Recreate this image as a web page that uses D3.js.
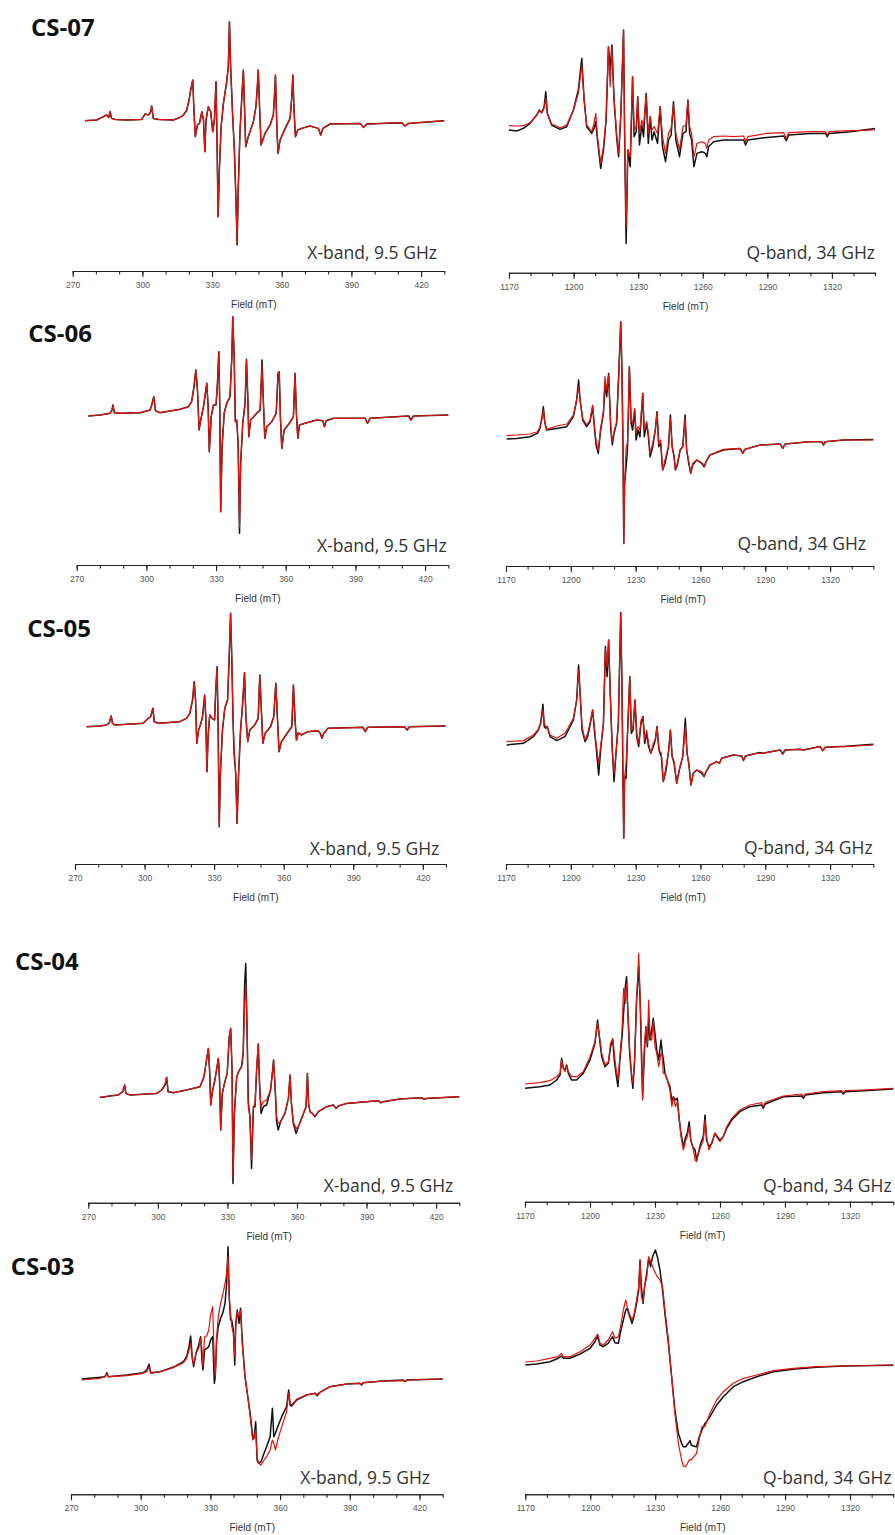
<!DOCTYPE html>
<html>
<head>
<meta charset="utf-8">
<script src="https://cdn.jsdelivr.net/npm/d3@7"></script>
<style>
  body { margin: 0; background: #fff; }
  svg { display: block; }
  .axis path, .axis line { stroke: #222; stroke-width: 1.1; }
  .axis text { font-family: "Liberation Sans", Arial, sans-serif; font-size: 8.5px; fill: #555; }
  .field-label { font-family: "Liberation Sans", Arial, sans-serif; font-size: 10px; fill: #333; }
  .band-label { font-family: "Open Sans", sans-serif; font-size: 17.5px; fill: #333; }
  .sample-name { font-family: "Open Sans", sans-serif; font-size: 24px; font-weight: bold; fill: #111; }
</style>
</head>
<body>
<svg id="chart" width="895" height="1535"></svg>
<script>

const cs07X = [[275.3,0],[280.3,0.7],[283.2,4],[284.6,5.7],[285.5,3.3],[286.1,9],[286.7,2.3],[288.2,1.3],[293.3,0.7],[299.7,1.3],[301.2,6.7],[302.6,5.7],[303.6,9],[304.0,14.7],[304.7,2.3],[306.9,1.3],[313.4,0.7],[316.2,3.3],[317.7,5.7],[319.1,10.7],[320.1,20.7],[320.8,30.7],[321.7,40.7],[322.2,10.7],[322.8,-16],[323.7,-4.3],[324.6,-2.7],[325.6,9],[326.3,0.7],[326.9,-31],[327.4,0.7],[328.4,14],[329.4,9],[330.3,-11],[331.0,0.7],[331.7,39],[332.1,-12.7],[332.6,-96],[333.2,-46],[333.9,-6],[334.9,17.3],[336.3,39],[337.0,54],[337.5,99],[338.0,54],[338.7,14],[339.6,-29.3],[340.3,-79.3],[340.8,-124.3,-122],[341.3,-66],[342.0,-12.7],[342.9,27.3],[343.5,50.7],[344.0,10.7],[344.5,-26],[345.6,-16],[347.8,-1],[348.9,14],[349.5,34],[349.9,50.7],[350.5,10.7],[351.1,-24.3],[352.8,-12.7],[355.0,-4.3],[356.4,5.7],[357.0,30.7],[357.3,45.7],[357.9,-6],[358.4,-32.7],[359.3,-19.3],[361.5,-7.7],[363.6,2.3],[364.3,22.7],[364.8,45.7],[365.3,10.7],[365.9,-16],[366.9,-9.3],[368.6,-7.7],[372.2,-5.3],[375.8,-7.7],[376.8,-14.3],[377.7,-7.7],[380.8,-3.3],[393.8,-2.7],[395.2,-6.7],[396.6,-3.3],[411.7,-2],[413.1,-5.3],[414.6,-2.7],[430.0,0]];

const cs07Q = [[1170.0,-3.3,1],[1173.6,-4.3,0.7],[1176.7,-1.7,1],[1179.8,3.3,4],[1182.9,11.7,11.7],[1184.1,16.7,16],[1185.2,14,14],[1186.3,20,18.3],[1187.1,35,28.3],[1187.8,13.3,13.3],[1189.8,1.7,2.7],[1193.7,-2.7,-1],[1196.8,0,1.7],[1199.9,16.7,16.7],[1202.2,36.7,33.3],[1203.8,68.3,61.7],[1204.9,26.7,26.7],[1206.1,0,1.7],[1208.4,-6.7,-5],[1209.5,-1.7,3.3],[1210.3,5,13.3],[1211.1,-13.3,-10],[1212.6,-41.7,-36.7],[1213.9,-23.3,-20],[1215.1,6.7,8.3],[1216.2,80,80],[1217.0,56.7,40],[1217.8,81.7,80],[1218.8,26.7,26.7],[1220.1,-13.3,-10],[1220.9,-30,-26.7],[1221.9,10,10],[1223.2,96.7,96.7],[1223.8,-23.3,-23.3],[1224.4,-116.7,-100],[1225.2,-23.3,-23.3],[1226.3,-40,-30],[1227.4,50,50],[1228.1,-10,-3.3],[1229.1,-5,0],[1229.8,30,30],[1230.6,-18.3,-6.7],[1231.7,1.7,6.7],[1232.5,-10,0],[1233.7,33.3,31.7],[1234.7,-16.7,-6.7],[1235.6,10,10],[1236.4,-13.3,-3.3],[1237.4,-5,0],[1239.0,-16.7,-6.7],[1240.2,20,20],[1241.3,-20,-10],[1242.7,-35,-26.7],[1244.1,-13.3,-6.7],[1245.3,-8.3,-1.7],[1246.4,25,21.7],[1247.5,-13.3,-6.7],[1249.2,-30,-23.3],[1250.8,-6.7,0],[1252.2,-5,1.7],[1253.1,26.7,26.7],[1253.9,-6.7,0],[1254.8,-13.3,-6.7],[1255.9,-40,-30],[1257.3,-26.7,-16.7],[1259.6,-25,-15],[1261.2,-26.7,-16.7],[1261.9,-30,-21.7],[1262.7,-20,-13.3],[1265.0,-15,-10],[1269.7,-13.3,-9.3],[1274.3,-13.3,-10],[1279.0,-13.3,-9.3],[1279.9,-18.3,-15],[1280.9,-13.3,-10],[1289.8,-10.7,-6.7],[1297.6,-9.3,-6],[1298.8,-14,-11.7],[1299.9,-8.3,-6],[1310.0,-6.7,-5],[1317.0,-6.7,-5],[1317.8,-10,-8.3],[1318.7,-6.7,-5],[1328.6,-5,-4],[1340.0,-1.7,-3.3]];

const cs06X = [[275.0,-1],[280.1,0],[284.4,1.7],[285.2,5],[285.6,10],[286.2,2.3],[288.7,1.7],[297.3,2.3],[301.6,5],[302.3,10],[303.2,18.3],[303.9,4.3],[305.9,2.3],[314.5,5.7],[318.1,8.3],[319.5,13.3],[320.5,28.3],[321.3,45],[322.0,25],[322.7,-15],[323.4,-5],[324.6,8.3],[325.4,21.7],[326.0,31.7],[326.6,8.3],[327.1,-36.7],[327.9,-1.7],[328.9,10],[330.0,10],[330.6,31.7],[331.2,63.3],[331.6,8.3],[332.0,-96.7],[332.6,-31.7],[333.5,1.7],[334.6,11.7],[336.0,18.3],[336.8,58.3],[337.2,98.3],[337.8,58.3],[338.3,-6.7],[338.9,-5],[339.5,-28.3],[340.1,-118.3,-111.7],[340.6,-48.3],[341.5,-8.3],[342.5,11.7],[343.1,55.7],[343.7,15],[344.1,-21.7],[344.9,-5],[347.5,1.7],[349.0,5],[349.5,35],[349.8,55,50],[350.4,11.7],[351.0,-23.3],[351.8,-11.7],[354.0,-6.7],[355.9,1.7],[356.7,41.7],[357.2,43.3],[357.7,-1.7],[358.3,-33.3],[359.3,-15],[361.6,-8.3],[363.3,-1.7],[364.0,41.7],[364.6,1.7],[365.2,-23.3],[365.9,-10],[368.3,-8.3],[373.4,-5],[376.0,-5.7],[376.7,-11.7],[377.4,-5.7],[380.6,-3.3],[394.2,-3.3],[395.2,-8.3],[396.3,-3.3],[412.9,-1],[413.9,-5],[415.0,-1],[430.0,0]];

const cs06Q = [[1170.3,-2.3,1],[1174.9,-1.7,1.7],[1181.1,0,2.7],[1184.5,3.3,5],[1185.7,8.3,9.3],[1186.7,20,18.3],[1187.3,30,26.7],[1187.9,15,15],[1188.8,6.7,7.3],[1193.5,8.3,10.7],[1198.1,10,12.7],[1201.2,20,21.7],[1202.7,36.7,36.7],[1203.6,56.7,50],[1204.3,36.7,36.7],[1205.5,16.7,18.3],[1207.3,10,11.7],[1208.9,15,16.7],[1210.1,30,31.7],[1211.0,6.7,10],[1211.7,-8.3,-5],[1212.7,-16.7,-13.3],[1213.8,6.7,8.3],[1215.1,23.3,25],[1215.8,53.3,60],[1216.6,40,46.7],[1217.5,63.3,61.7],[1218.5,6.7,10],[1219.2,-8.3,-5],[1220.0,3.3,5],[1221.2,13.3,15],[1222.2,63.3,63.3],[1223.1,115,115],[1223.7,63.3,63.3],[1224.2,-20,-20],[1224.5,-106.7,-106.7],[1224.9,-46.7,-46.7],[1225.6,-30,-10],[1226.2,-13.3,-6.7],[1226.6,20,20],[1227.1,70,70],[1227.9,13.3,16.7],[1228.6,6.7,13.3],[1229.6,26.7,28.3],[1230.2,-3.3,3.3],[1231.1,6.7,10],[1232.0,0,6.7],[1233.3,43.3,43.3],[1234.0,0,6.7],[1235.1,13.3,15],[1235.9,0,3.3],[1236.7,-20,-16.7],[1237.9,-10,-6.7],[1239.1,6.7,6.7],[1239.9,25,25],[1240.7,-10,-6.7],[1241.6,-6.7,-3.3],[1242.5,-33.3,-33.3],[1243.6,-26.7,-23.3],[1245.2,-10,-10],[1246.1,21.7,18.3],[1246.9,-10,-10],[1247.8,-20,-20],[1248.4,-33.3,-33.3],[1249.3,-28.3,-26.7],[1250.6,-13.3,-13.3],[1251.8,-10,-10],[1252.9,21.7,18.3],[1253.6,-13.3,-13.3],[1254.6,-26.7,-25],[1255.5,-36.7,-36.7],[1256.4,-28.3,-26.7],[1258.3,-23.3,-23.3],[1260.6,-26.7,-26],[1261.7,-30,-29.3],[1262.6,-25,-25],[1264.4,-18.3,-18.3],[1270.6,-13.3,-12.7],[1278.3,-11.7,-11.7],[1279.6,-16.7,-16.7],[1280.5,-12.7,-12.7],[1287.6,-8.3,-8.3],[1296.9,-7.3,-7.3],[1298.1,-11.7,-11.7],[1299.2,-7.3,-7.3],[1310.7,-5,-5],[1316.1,-5,-5],[1316.9,-8.3,-8.3],[1317.8,-5,-5],[1326.2,-3.3,-3.3],[1340.0,-2.7,-3.3]];

const cs05X = [[275.0,-0.7],[280.8,0],[283.6,1],[284.8,3.3],[285.6,10],[286.2,2.7],[287.2,1],[299.4,2.7],[301.6,7.7],[302.6,9.3],[303.6,17.7],[304.2,4.3],[305.9,2.7],[315.2,4.3],[318.1,7.7],[319.5,12.7],[320.7,26],[321.4,44.3],[322.0,26],[322.5,-17.3],[323.3,-4],[324.3,2.7],[325.0,9.3],[325.9,31],[326.4,9.3],[326.9,-45.7],[327.4,-10.7],[328.1,11],[329.1,7.7],[330.2,6],[330.7,36],[331.3,59.3],[331.7,2.7],[332.2,-100.7],[332.7,-47.3],[333.6,-4],[334.6,17.7],[335.8,26],[336.5,69.3],[337.1,112.7],[337.6,69.3],[338.2,2.7],[338.6,-27.3,-20.7],[339.3,-47.3],[339.9,-97.3],[340.5,-50.7],[341.4,-4],[342.2,19.3],[343.1,53.3],[343.7,9.3],[344.5,-15.7],[345.4,-4],[347.5,1],[349.0,7.7],[349.7,51],[350.3,19.3],[351.0,-17.3],[352.0,-7.3],[354.3,-0.7],[355.7,9.3],[356.6,42.7],[357.2,12.7],[358.0,-25.7],[359.0,-15.7],[361.5,-7.3],[363.5,-0.7],[364.2,41],[364.9,6],[365.5,-14],[366.3,-6.7],[367.6,-9],[370.5,-5.7],[374.8,-4.7],[375.8,-7.3],[376.5,-12.3],[377.3,-7.3],[379.1,-2.3],[394.2,-1.3],[395.2,-5.7],[396.2,-1.3],[412.1,-0.7],[413.2,-4],[414.3,-0.7],[429.8,0]];

const cs05Q = [[1170.3,-1.7,1.7],[1178.0,0,2.7],[1182.7,6.7,8.3],[1185.0,13.3,14],[1186.0,20,20],[1186.5,28.3,25],[1187.1,39,33.3],[1187.7,16.7,20],[1188.4,15,16.7],[1189.1,16.7,16],[1190.4,6.7,8.3],[1193.5,2.7,5],[1197.3,6.7,10],[1201.2,23.3,25],[1202.7,43.3,43.3],[1203.6,78.3,73.3],[1204.3,50,50],[1205.2,13.3,16.7],[1206.6,1.7,3.3],[1207.8,6.7,10],[1208.9,18.3,20],[1210.1,33.3,33.3],[1210.9,13.3,16.7],[1211.7,-3.3,0],[1212.9,-31.7,-20],[1213.8,-6.7,-3.3],[1215.1,20,20],[1216.0,96.7,95],[1216.8,66.7,76.7],[1217.5,103.3,103.3],[1218.3,46.7,46.7],[1219.2,-6.7,-6.7],[1220.0,-38.3,-30],[1220.8,-13.3,-13.3],[1222.0,20,20],[1223.1,130.7,130.7],[1223.7,53.3,53.3],[1224.2,-46.7,-46.7],[1224.5,-95,-95],[1224.9,-33.3,-33.3],[1225.6,-35,-20],[1226.3,13.3,13.3],[1227.3,66.7,66.7],[1228.0,10,13.3],[1228.8,13.3,16.7],[1229.7,43.3,43.3],[1230.5,6.7,10],[1231.4,-3.3,0],[1232.5,20,23.3],[1233.4,26.7,26.7],[1234.2,0,3.3],[1235.1,10,13.3],[1236.0,-3.3,0],[1237.0,-10,-10],[1238.2,-3.3,0],[1239.1,3.3,3.3],[1239.9,16.7,16.7],[1240.8,-6.7,-6.7],[1241.9,-13.3,-10],[1242.8,-38.3,-38.3],[1244.1,-26.7,-23.3],[1245.3,-6.7,-6.7],[1246.1,13.3,12.7],[1246.9,-13.3,-13.3],[1247.8,-20,-18.3],[1249.0,-40,-40],[1250.2,-26.7,-26.7],[1251.8,-13.3,-13.3],[1253.0,25,16.7],[1253.8,-10,-10],[1254.6,-20,-20],[1255.6,-41.7,-41.7],[1256.7,-30,-30],[1258.3,-26.7,-26.7],[1260.6,-30,-28.3],[1261.7,-33.3,-33.3],[1262.6,-28.3,-28.3],[1264.4,-21.7,-21.7],[1267.5,-18.3,-18.3],[1268.8,-20,-20],[1269.8,-15,-15],[1275.2,-11.7,-11.7],[1279.1,-12.7,-12.7],[1279.9,-17.3,-17.3],[1280.8,-12.7,-12.7],[1286.0,-10,-10],[1287.6,-9.3,-10],[1288.8,-10,-10],[1296.9,-6.7,-6.7],[1298.1,-10.7,-10.7],[1299.2,-6.7,-6.7],[1306.1,-6,-6],[1307.7,-6.7,-6.7],[1315.4,-3.3,-3.3],[1316.6,-7.3,-7.3],[1317.8,-4,-4],[1324.6,-3.3,-3.3],[1326.2,-3.3,-3.3],[1340.0,-1,-1.7]];

const cs04X = [[275.0,-0.7],[279.3,0.7],[282.9,1.7],[284.8,5],[285.7,11.7],[286.2,3.3],[288.0,1.7],[299.5,3.3],[301.6,6.7],[303.1,11.7],[303.8,19.3],[304.4,5],[306.7,4],[312.4,6.7],[318.2,10],[319.9,20],[321.0,36.7],[321.8,48.3],[322.3,26.7],[322.8,-8.3],[323.5,5],[324.6,16.7],[325.3,26.7],[326.1,38.3],[326.6,16.7],[327.1,-33.3],[327.8,3.3],[328.9,15],[329.9,23.3],[330.8,60],[331.4,68.3],[332.0,26.7],[332.4,-86.7,-80],[333.0,-16.7],[334.0,20],[334.8,25],[336.1,30],[336.8,43.3],[337.4,110,90],[337.9,133.3,113.3],[338.4,76.7],[339.0,-5,-10],[339.7,-20],[340.4,-71.7,-63.3],[341.2,-10],[341.9,-10,-6.7],[342.6,26.7],[343.3,52.7],[343.9,10],[344.5,-16.7,-10],[345.5,-10,-5],[346.9,-8.3,-3.3],[348.6,6.7],[349.5,26.7],[349.9,36.7],[350.7,3.3],[351.2,-25,-20],[351.9,-33.3,-26.7],[352.9,-25],[354.8,-16.7],[356.3,-1.7],[357.0,21.7],[357.6,-6.7],[358.4,-26.7,-25],[359.6,-36.7,-31.7],[360.6,-30],[362.0,-21.7],[363.9,-10],[364.5,23.3],[365.0,-6.7],[365.6,-15],[366.6,-16.7],[367.8,-20],[369.2,-15],[372.8,-10],[375.7,-8.3],[376.8,-11.7],[377.8,-9.3],[381.4,-6.7],[390.0,-5],[395.1,-4],[396.1,-6],[397.2,-5],[404.4,-2.3],[413.8,-1],[414.8,-2.7],[415.9,-1.7],[421.7,-1],[430.0,0]];

const cs04Q = [[1170.0,-3.3,1],[1176.9,-1.7,2.3],[1181.5,0,4.3],[1184.6,5,8.3],[1186.2,10,11.7],[1186.9,26.7,25],[1187.7,16.7,16.7],[1188.5,15,13.3],[1189.2,20,19],[1190.0,11.7,13.3],[1191.5,5,8.3],[1193.8,5,8.3],[1196.9,11.7,13.3],[1200.0,25,28.3],[1202.3,41.7,43.3],[1203.5,65,61.7],[1204.3,48.3,50],[1205.4,28.3,31.7],[1206.9,18.3,20],[1208.5,21.7,23.3],[1209.5,38.3,41.7],[1210.5,45,46.7],[1211.2,25,31.7],[1212.0,11.7,16.7],[1212.9,-1.7,5],[1213.8,25,28.3],[1214.8,48.3,55],[1215.5,71.7,96.7],[1216.3,98.3,81.7],[1216.9,108.3,101.7],[1217.5,71.7,71.7],[1218.3,31.7,35],[1219.2,8.3,11.7],[1219.8,-3.3,1.7],[1220.6,25,25],[1221.5,85,85],[1222.5,118.3,131.7],[1223.2,81.7,81.7],[1223.8,25,38.3],[1224.3,-11.7,-15],[1225.1,31.7,38.3],[1225.8,58.3,58.3],[1226.5,38.3,41.7],[1227.1,65,85],[1227.7,45,48.3],[1228.5,55,45],[1229.2,66.7,63.3],[1230.0,51.7,38.3],[1230.8,35,31.7],[1231.7,25,18.3],[1232.8,45,31.7],[1233.4,31.7,28.3],[1233.8,26.7,11.7],[1234.6,11.7,11.7],[1235.7,5,5],[1236.9,-1.7,-5],[1237.8,-16.7,-21.7],[1238.5,-11.7,-11.7],[1239.4,-15,-21.7],[1240.3,-13.3,-16.7],[1241.2,-35,-33.3],[1242.0,-48.3,-51.7],[1243.1,-61.7,-65],[1244.2,-51.7,-55],[1244.9,-48.3,-51.7],[1245.8,-36.7,-41.7],[1246.5,-55,-55],[1247.4,-61.7,-61.7],[1248.5,-65,-75],[1249.2,-75,-76.7],[1250.0,-68.3,-68.3],[1251.1,-58.3,-61.7],[1252.3,-51.7,-55],[1253.1,-30,-35],[1253.8,-55,-51.7],[1254.9,-61.7,-65],[1256.2,-58.3,-58.3],[1257.7,-48.3,-48.3],[1258.8,-51.7,-53.3],[1260.0,-55,-56.7],[1261.5,-51.7,-51.7],[1263.1,-43.3,-41.7],[1265.4,-35,-33.3],[1269.2,-26.7,-25],[1273.8,-21.7,-20],[1279.2,-20,-17.7],[1280.0,-23.3,-21.7],[1280.9,-19,-17.3],[1289.2,-11.7,-11],[1297.7,-11,-9],[1298.5,-13.3,-11.7],[1299.4,-10,-9],[1307.7,-7.7,-6.7],[1316.2,-6.7,-5.7],[1316.9,-9,-8.3],[1317.8,-6.7,-5.7],[1326.2,-5.7,-5],[1340.0,-4,-3.3]];

const cs03X = [[274.6,0,-1],[282.5,1.7,0.7],[284.6,2.3,2.3],[285.4,6.3,5],[286.1,2.3,2.3],[294.0,4,3.3],[301.1,6.3,5.7],[302.6,9,7.3],[303.6,14.7,12.3],[304.3,6.3,5.7],[308.3,7.3,7.3],[314.0,11.7,11.3],[318.4,17.3,16.3],[319.8,22.3,20.7],[320.8,32.3,29],[321.5,43,35.7],[322.2,20.7,22.3],[322.8,12.3,14],[323.8,25.7,25.7],[325.0,34,30.7],[325.8,42.3,40.7],[326.4,19,29],[326.8,9,12.3],[327.5,29,42.3],[328.4,30.7,43],[329.3,32.3,49],[330.1,39,64],[331.0,42.3,72.3],[331.7,-4.3,15.7],[332.1,2.3,2.3],[332.7,39,42.3],[333.4,52.3,62.3],[334.4,60.7,75.7],[335.3,65.7,84],[336.3,75.7,95.7],[337.0,95.7,105.7],[337.6,132.3,122.3],[338.1,82.3,82.3],[338.7,59,65.7],[339.2,59,52.3],[339.9,49,45.7],[340.5,14,22.3],[340.9,55.7,52.3],[341.6,69,67.3],[342.3,55.7,62.3],[343.0,70.7,69],[343.7,39,35.7],[344.9,2.3,2.3],[346.3,-21,-21],[347.3,-37.7,-41],[348.2,-57.7,-61],[348.8,-59.3,-59.3],[349.5,-42.7,-51],[350.1,-81,-77.7],[350.8,-84.3,-84.3],[351.8,-82.7,-86],[353.1,-74.3,-81],[354.2,-67.7,-77.7],[355.7,-57.7,-71],[356.7,-29.3,-61],[357.3,-57.7,-64.3],[358.0,-54.3,-71],[359.0,-47.7,-61],[360.7,-37.7,-47.7],[362.8,-27.7,-32.7],[363.7,-11,-14.3],[364.3,-26,-24.3],[365.0,-27,-26],[367.1,-21,-20.3],[371.4,-16,-16],[375.0,-14.3,-14.3],[376.0,-16.7,-16],[376.9,-13.7,-13.7],[381.5,-7.7,-7.7],[388.7,-5,-5],[394.4,-4.3,-4.3],[395.1,-6,-6],[395.8,-3.7,-3.7],[404.4,-2,-2],[413.0,-1,-1.7],[413.8,-2.7,-2.7],[414.5,-1,-1],[430.0,0,0]];

const cs03Q = [[1170.0,-1,2],[1175.2,0,3],[1181.4,2.3,5.7],[1185.2,5.7,7.3],[1186.6,8,10.7],[1187.6,5.7,7.3],[1190.6,5.7,7.3],[1195.3,10,12.3],[1199.9,15.7,19],[1202.2,22.3,25.7],[1203.4,28,30],[1204.5,19,20.7],[1206.0,17.3,19],[1208.3,20.7,24],[1210.3,27.3,32.3],[1211.4,21.3,25.7],[1213.0,20.7,27.3],[1214.0,32.3,37.3],[1215.3,44,54],[1216.4,54,64],[1217.1,55.7,57.3],[1218.0,49,50.7],[1219.3,40.7,44],[1220.2,47.3,49],[1221.4,60.7,64],[1222.4,74,77.3],[1223.0,104,104],[1223.6,77.3,67.3],[1224.4,60.7,62.3],[1225.1,77.3,77.3],[1226.1,90.7,87.3],[1227.0,105.7,107.3],[1227.9,97.3,102.3],[1228.8,107.3,97.3],[1230.1,114,90.7],[1231.0,107.3,87.3],[1232.2,94,84],[1233.4,74,77.3],[1234.5,50.7,54],[1236.1,20.7,24],[1237.6,-12.7,-12.7],[1239.1,-46,-49.3],[1240.7,-69.3,-79.3],[1242.2,-79.3,-96],[1243.0,-82.7,-102],[1244.1,-82.7,-102.7],[1245.3,-79.3,-97.7],[1246.1,-76.7,-95.3],[1246.7,-81,-96],[1247.6,-82,-93.3],[1249.1,-82.7,-89.3],[1250.4,-72.7,-74.3],[1251.6,-66,-62.7],[1253.0,-59.3,-62.7],[1253.8,-57.7,-57.7],[1255.3,-52.7,-49.3],[1258.4,-41,-36],[1261.5,-32.7,-27.7],[1266.1,-22.7,-19.3],[1270.7,-17.7,-14.3],[1276.9,-12.7,-11],[1284.6,-7.7,-6.7],[1293.8,-5.3,-4.3],[1304.6,-3.3,-2.7],[1316.9,-2,-2],[1340.0,-1.3,-1]];

// assi
const xDomain = [270, 430];
const qDomain = [1170, 1340];
const xMajor = [270, 300, 330, 360, 390, 420];
const qMajor = [1170, 1200, 1230, 1260, 1290, 1320];
const xMinor = d3.range(270, 431, 10);
const qMinor = d3.range(1170, 1341, 10);

const samples = ["CS-07", "CS-06", "CS-05", "CS-04", "CS-03"];
const xSpectra = [cs07X, cs06X, cs05X, cs04X, cs03X];
const qSpectra = [cs07Q, cs06Q, cs05Q, cs04Q, cs03Q];
const bandNames = ["X-band, 9.5 GHz", "Q-band, 34 GHz"];

// --- layout of the 5 rows (pixels) ---
const layout = [
  { nameX: 31,   nameY: 36,
    left:  { x0: 72.7, x1: 444.3, zero: 120.7,  axisY: 271,    labelX: 437,   labelY: 259 },
    right: { x0: 509,  x1: 875,   zero: 126.7,  axisY: 272.7,  labelX: 875,   labelY: 259 } },
  { nameX: 28.3, nameY: 342,
    left:  { x0: 76.7, x1: 448.3, zero: 415,    axisY: 565,    labelX: 446.7, labelY: 551.7 },
    right: { x0: 506,  x1: 873.3, zero: 436.7,  axisY: 566,    labelX: 866,   labelY: 550 } },
  { nameX: 27.3, nameY: 636.7,
    left:  { x0: 75,   x1: 446,   zero: 726,    axisY: 864,    labelX: 439.3, labelY: 855 },
    right: { x0: 506,  x1: 873.3, zero: 743.3,  axisY: 864,    labelX: 872.7, labelY: 854 } },
  { nameX: 15,   nameY: 970,
    left:  { x0: 88.3, x1: 459.3, zero: 1096.7, axisY: 1202.7, labelX: 453.3, labelY: 1191.7 },
    right: { x0: 525,  x1: 893.3, zero: 1085,   axisY: 1201.7, labelX: 891.7, labelY: 1191.7 } },
  { nameX: 10.7, nameY: 1275,
    left:  { x0: 71,   x1: 442.7, zero: 1379,   axisY: 1494.3, labelX: 430,   labelY: 1484 },
    right: { x0: 525.3,x1: 893.3, zero: 1364,   axisY: 1494.3, labelX: 891.7, labelY: 1484 } }
];

const svg = d3.select("#chart");

// disegna un pannello (spettro sperimentale nero + simulazione rossa)
function drawPanel(data, box, domain, major, minor, band, fieldAt) {
  const x = d3.scaleLinear().domain(domain).range([box.x0, box.x1]);
  const y = d3.scaleLinear().domain([0, 100]).range([box.zero, box.zero - 100]);
  const g = svg.append("g");

  const lineExp = d3.line().x(d => x(d[0])).y(d => y(d[1]));
  const lineSim = d3.line().x(d => x(d[0])).y(d => y(d.length > 2 ? d[2] : d[1]));

  g.append("path").attr("d", lineExp(data))
    .attr("fill", "none").attr("stroke", "#111").attr("stroke-width", 1.5)
    .attr("stroke-linejoin", "round");
  g.append("path").attr("d", lineSim(data))
    .attr("fill", "none").attr("stroke", "#e3140e").attr("stroke-width", 1.2)
    .attr("stroke-linejoin", "round");

  // minor + major ticks
  g.append("g").attr("class", "axis")
    .attr("transform", `translate(0,${box.axisY})`)
    .call(d3.axisBottom(x).tickValues(minor).tickSize(3.5).tickFormat("").tickSizeOuter(0));
  g.append("g").attr("class", "axis")
    .attr("transform", `translate(0,${box.axisY})`)
    .call(d3.axisBottom(x).tickValues(major).tickSize(6).tickPadding(5)
      .tickFormat(d3.format("d")).tickSizeOuter(0));

  g.append("text").attr("class", "field-label")
    .attr("x", x(fieldAt)).attr("y", box.axisY + 37)
    .attr("text-anchor", "middle").text("Field (mT)");

  g.append("text").attr("class", "band-label")
    .attr("x", box.labelX).attr("y", box.labelY)
    .attr("text-anchor", "end").text(band);
}

layout.forEach((row, i) => {
  svg.append("text").attr("class", "sample-name")
    .attr("x", row.nameX).attr("y", row.nameY).text(samples[i]);
  drawPanel(xSpectra[i], row.left, xDomain, xMajor, xMinor, bandNames[0], 348);
  drawPanel(qSpectra[i], row.right, qDomain, qMajor, qMinor, bandNames[1], 1252);
});
</script>
</body>
</html>
